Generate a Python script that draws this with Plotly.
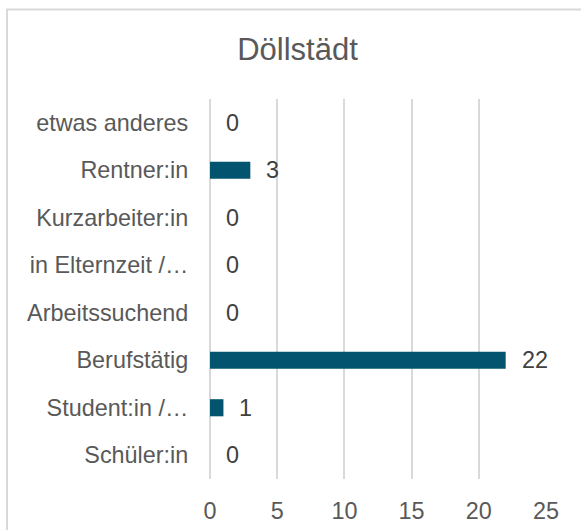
import plotly.graph_objects as go

title = "Döllstädt"
categories = ["Schüler:in", "Student:in /…", "Berufstätig", "Arbeitssuchend",
              "in Elternzeit /…", "Kurzarbeiter:in", "Rentner:in", "etwas anderes"]
values = [0, 1, 22, 0, 0, 0, 3, 0]
x_ticks = [0, 5, 10, 15, 20, 25]

FONT = "Liberation Sans, Arial, sans-serif"
BAR = "#02546F"
GRID = "#D9D9D9"
TXT = "#595959"
FS = 23.4

fig = go.Figure(go.Bar(
    x=values, y=categories, orientation="h",
    marker=dict(color=BAR, line=dict(width=0)),
    hoverinfo="skip",
))

annotations = [
    dict(x=v, y=c, xref="x", yref="y", text=str(v), showarrow=False,
         xanchor="left", yanchor="middle", xshift=14,
         font=dict(family=FONT, size=FS, color="#404040"))
    for c, v in zip(categories, values)
]

fig.update_layout(
    width=581, height=530,
    margin=dict(l=210, r=35, t=99, b=51, autoexpand=False),
    paper_bgcolor="white", plot_bgcolor="white",
    bargap=0.64,
    showlegend=False,
    title=dict(text=title, x=297.5 / 581, xanchor="center", xref="container",
               y=1 - 49.5 / 530, yanchor="middle", yref="container",
               font=dict(family=FONT, size=31, color=TXT)),
    font=dict(family=FONT, size=FS, color=TXT),
    annotations=annotations,
    shapes=[dict(type="rect", xref="paper", yref="paper",
                 x0=(7 - 210) / 336, x1=(600 - 210) / 336,
                 y0=(479 - 560) / 380, y1=(479 - 9.5) / 380,
                 line=dict(color=GRID, width=2), fillcolor="rgba(0,0,0,0)",
                 layer="below")],
)

fig.update_xaxes(
    range=[0, 25], tickvals=x_ticks, ticktext=[str(t) for t in x_ticks],
    showgrid=True, gridcolor=GRID, gridwidth=1.5,
    zeroline=True, zerolinecolor=GRID, zerolinewidth=1.5,
    showline=False, ticks="outside", ticklen=11, tickcolor="rgba(0,0,0,0)",
    tickfont=dict(family=FONT, size=FS, color=TXT), fixedrange=True,
    automargin=False,
)
fig.update_yaxes(
    categoryorder="array", categoryarray=categories,
    showgrid=False, zeroline=False, showline=False,
    ticks="outside", ticklen=16, tickcolor="rgba(0,0,0,0)",
    tickfont=dict(family=FONT, size=FS, color=TXT), fixedrange=True,
    automargin=False,
)

fig.write_html(
    "out.html",
    config={"displayModeBar": False},
    post_script="document.body.style.margin='0px';document.body.style.overflow='hidden';",
)
